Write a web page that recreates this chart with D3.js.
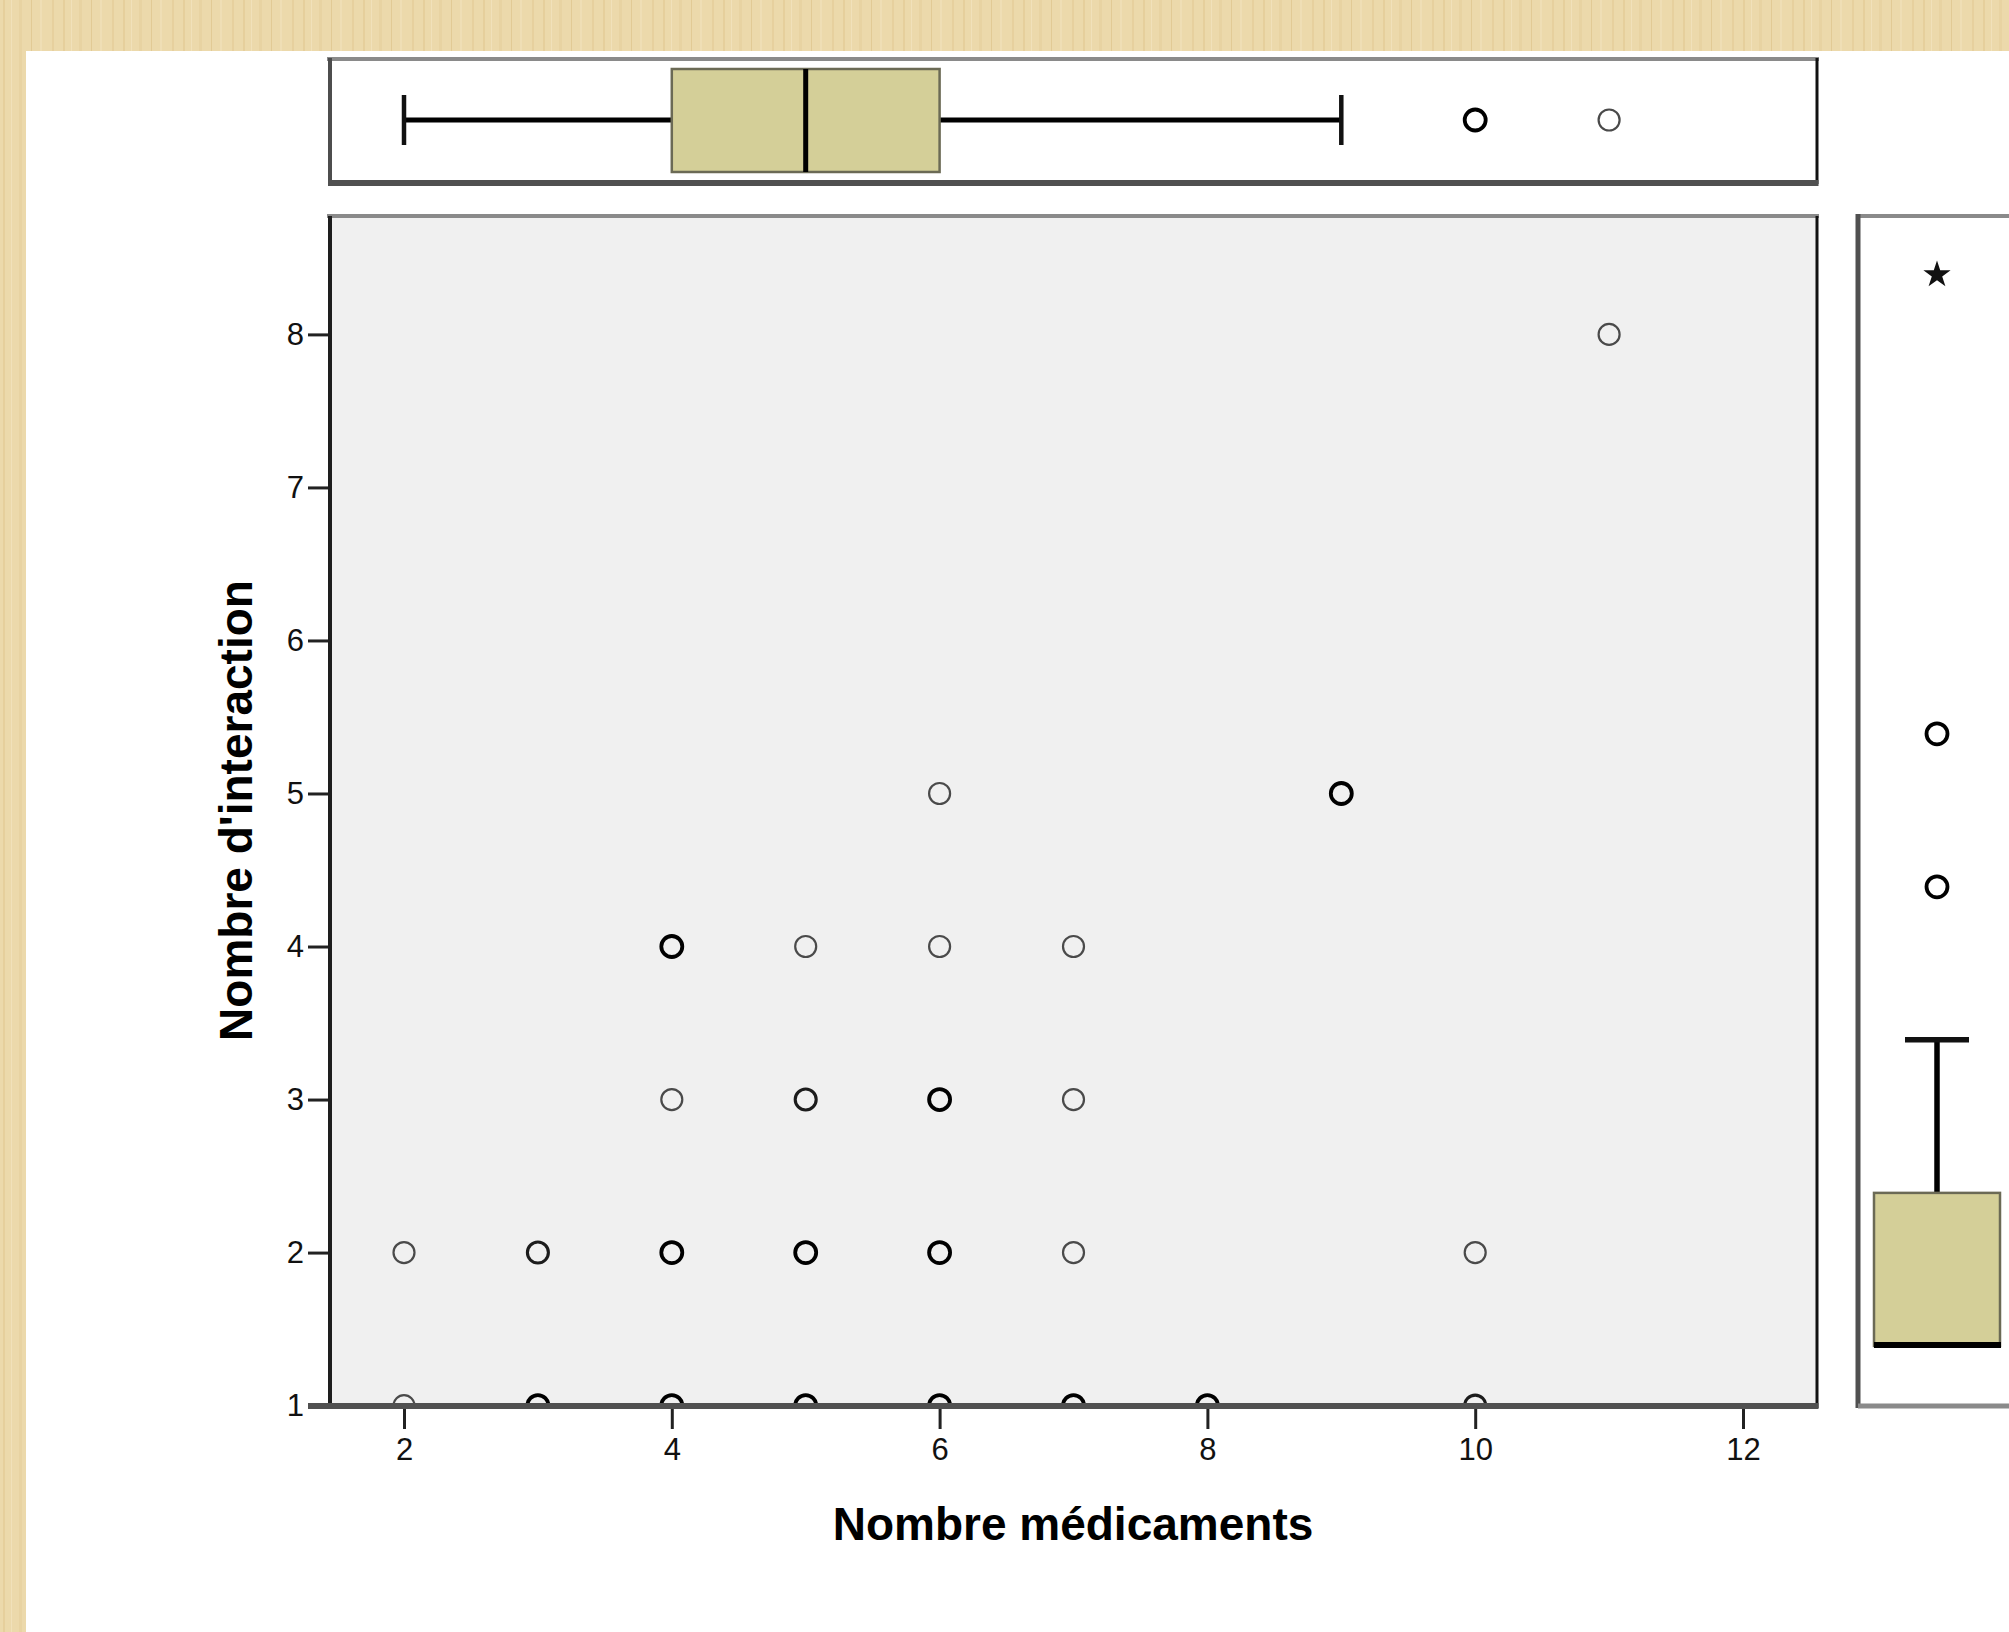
<!DOCTYPE html>
<html>
<head>
<meta charset="utf-8">
<script src="https://cdn.jsdelivr.net/npm/d3@7"></script>
<style>
  body { margin: 0; background: #ebd7a7; }
  svg { display: block; }
  text { font-family: "Liberation Sans", Arial, sans-serif; }
</style>
</head>
<body>
<div id="chart"></div>
<script>
// scatter points: nombre de médicaments, nombre d'interactions, overlap level (1 = single, 3 = many)
const medicaments = [2, 3, 4, 5, 6, 7, 8, 10,  2, 3, 4, 5, 6, 7, 10,  4, 5, 6, 7,  4, 5, 6, 7,  6, 9,  11];
const interactions = [1, 1, 1, 1, 1, 1, 1, 1,  2, 2, 2, 2, 2, 2, 2,  3, 3, 3, 3,  4, 4, 4, 4,  5, 5,  8];
const overlap = [1, 3, 3, 3, 3, 3, 3, 2,  1, 2, 3, 3, 3, 1, 1,  1, 2, 3, 1,  3, 1, 1, 1,  1, 3,  1];

// boxplot of "Nombre médicaments" (top)
const medBox = { min: 2, q1: 4, median: 5, q3: 6, max: 9 };
const medOutliers = [10, 11];
const medOutlierOverlap = [3, 1];

// boxplot of "Nombre d'interaction" (right)
const interBox = { q1: 1, median: 1, q3: 2, max: 3 };
const interOutliers = [4, 5];
const interExtremes = [8];

const xTicks = [2, 4, 6, 8, 10, 12];
const yTicks = [1, 2, 3, 4, 5, 6, 7, 8];

const W = 2009, H = 1632;
const panel = { left: 329, right: 1817, top: 216, bottom: 1405 };
const topPanel = { top: 58, bottom: 184 };
const rightPanel = { left: 1858, right: W };
// SPSS draws the side boxplot slightly shifted against the scatter axis
const rightShift = 0.39;

const x = d3.scaleLinear().domain([2, 12]).range([404, 1743]);
const y = d3.scaleLinear().domain([1, 8]).range([1405.6, 334.4]);
const yRight = d3.scaleLinear().domain([1 - rightShift, 8 - rightShift]).range(y.range());

const svg = d3.select("#chart").append("svg")
    .attr("width", W)
    .attr("height", H);

// wood-like backdrop
const defs = svg.append("defs");
const pat = defs.append("pattern")
    .attr("id", "wood")
    .attr("width", 60).attr("height", 8)
    .attr("patternUnits", "userSpaceOnUse");
pat.append("rect").attr("width", 60).attr("height", 8).attr("fill", "#ecd9ab");
[[3, 2, "#e6cf9c"], [11, 1, "#f1e1ba"], [19, 3, "#e8d3a2"], [31, 1, "#e2ca95"], [40, 2, "#efdeb5"], [52, 2, "#e7d09e"]]
    .forEach(([px, pw, c]) => {
        pat.append("rect").attr("x", px).attr("width", pw).attr("height", 8).attr("fill", c);
    });
svg.append("rect").attr("width", W).attr("height", H).attr("fill", "url(#wood)");
svg.append("rect").attr("x", 26).attr("y", 51).attr("width", W - 26).attr("height", H - 51).attr("fill", "#fff");

const line = (g, x1, y1, x2, y2, color, w) => g.append("line")
    .attr("x1", x1).attr("y1", y1).attr("x2", x2).attr("y2", y2)
    .attr("stroke", color).attr("stroke-width", w);

const strokeFor = o => o >= 3 ? "#000" : (o == 2 ? "#1c1c1c" : "#4a4a4a");
const widthFor = o => o >= 3 ? 3.8 : (o == 2 ? 3.1 : 2.2);

// ---------- scatter panel ----------
const sc = svg.append("g");
sc.append("rect")
    .attr("x", panel.left).attr("y", panel.top)
    .attr("width", panel.right - panel.left).attr("height", panel.bottom - panel.top)
    .attr("fill", "#f0f0f0");

defs.append("clipPath").attr("id", "clipScatter")
    .append("rect")
    .attr("x", panel.left + 2).attr("y", panel.top + 2)
    .attr("width", panel.right - panel.left - 4).attr("height", panel.bottom - panel.top - 4);

sc.append("g").attr("clip-path", "url(#clipScatter)")
    .selectAll("circle")
    .data(medicaments.map((m, i) => ({ m, n: interactions[i], o: overlap[i] })))
    .join("circle")
    .attr("cx", d => x(d.m))
    .attr("cy", d => y(d.n))
    .attr("r", 10.5)
    .attr("fill", "none")
    .attr("stroke", d => strokeFor(d.o))
    .attr("stroke-width", d => widthFor(d.o));

const xAxis = sc.append("g")
    .attr("transform", `translate(0,${panel.bottom + 2})`)
    .call(d3.axisBottom(x).tickValues(xTicks).tickFormat(d3.format("d")).tickSize(22).tickPadding(9));
const yAxis = sc.append("g")
    .attr("transform", `translate(${panel.left - 1},0)`)
    .call(d3.axisLeft(y).tickValues(yTicks).tickFormat(d3.format("d")).tickSize(20).tickPadding(4));
[xAxis, yAxis].forEach(a => {
    a.select(".domain").remove();
    a.selectAll(".tick line").attr("stroke", "#222").attr("stroke-width", 3);
    a.selectAll(".tick text")
        .attr("fill", "#111")
        .style("font-size", "31px")
        .style("font-family", "'Liberation Sans', Arial, sans-serif");
});

// frame of scatter panel
line(sc, panel.left - 2, panel.top, panel.right + 2, panel.top, "#8a8a8a", 4);
line(sc, panel.left + 1, panel.top, panel.left + 1, panel.bottom, "#1e1e1e", 4);
line(sc, panel.right, panel.top, panel.right, panel.bottom + 3, "#111", 3);
line(sc, panel.left - 21, panel.bottom + 1, panel.right + 1.5, panel.bottom + 1, "#505050", 6);

sc.append("text")
    .attr("x", (panel.left + panel.right) / 2)
    .attr("y", 1540)
    .attr("text-anchor", "middle")
    .style("font-size", "46px")
    .style("font-weight", "bold")
    .text("Nombre médicaments");

sc.append("text")
    .attr("transform", `translate(252,${(panel.top + panel.bottom) / 2}) rotate(-90)`)
    .attr("text-anchor", "middle")
    .style("font-size", "46px")
    .style("font-weight", "bold")
    .text("Nombre d'interaction");

// ---------- top boxplot ----------
const tb = svg.append("g");
const cy = (topPanel.top + topPanel.bottom) / 2 - 1;
tb.append("rect")
    .attr("x", panel.left).attr("y", topPanel.top)
    .attr("width", panel.right - panel.left).attr("height", topPanel.bottom - topPanel.top)
    .attr("fill", "#fff");
line(tb, x(medBox.min), cy, x(medBox.q1), cy, "#000", 5);
line(tb, x(medBox.q3), cy, x(medBox.max), cy, "#000", 5);
line(tb, x(medBox.min), cy - 25, x(medBox.min), cy + 25, "#111", 4.5);
line(tb, x(medBox.max), cy - 25, x(medBox.max), cy + 25, "#111", 4.5);
tb.append("rect")
    .attr("x", x(medBox.q1)).attr("y", cy - 51)
    .attr("width", x(medBox.q3) - x(medBox.q1)).attr("height", 103)
    .attr("fill", "#d4cf98")
    .attr("stroke", "#6b6a55").attr("stroke-width", 2.5);
line(tb, x(medBox.median), cy - 51, x(medBox.median), cy + 52, "#000", 5);
tb.selectAll("circle.out")
    .data(medOutliers)
    .join("circle")
    .attr("class", "out")
    .attr("cx", d => x(d))
    .attr("cy", cy)
    .attr("r", 10.5)
    .attr("fill", "none")
    .attr("stroke", (d, i) => strokeFor(medOutlierOverlap[i]))
    .attr("stroke-width", (d, i) => widthFor(medOutlierOverlap[i]));
line(tb, panel.left - 2, topPanel.top + 1, panel.right + 2, topPanel.top + 1, "#8a8a8a", 4);
line(tb, panel.left + 1, topPanel.top, panel.left + 1, topPanel.bottom, "#4d4d4d", 4);
line(tb, panel.right, topPanel.top, panel.right, topPanel.bottom, "#111", 3);
line(tb, panel.left - 1, topPanel.bottom - 1, panel.right + 1.5, topPanel.bottom - 1, "#505050", 6);

// ---------- right boxplot ----------
const rb = svg.append("g");
const cx = 1937;
rb.append("rect")
    .attr("x", rightPanel.left).attr("y", panel.top)
    .attr("width", rightPanel.right - rightPanel.left).attr("height", panel.bottom - panel.top)
    .attr("fill", "#fff");
line(rb, cx, yRight(interBox.q3), cx, yRight(interBox.max), "#000", 5.5);
line(rb, cx - 32, yRight(interBox.max), cx + 32, yRight(interBox.max), "#111", 5.5);
rb.append("rect")
    .attr("x", cx - 63).attr("y", yRight(interBox.q3))
    .attr("width", 126).attr("height", yRight(interBox.q1) - yRight(interBox.q3))
    .attr("fill", "#d4cf98")
    .attr("stroke", "#6b6a55").attr("stroke-width", 2.5);
line(rb, cx - 63, yRight(interBox.median) - 1, cx + 64, yRight(interBox.median) - 1, "#000", 6);
rb.selectAll("circle.out")
    .data(interOutliers)
    .join("circle")
    .attr("class", "out")
    .attr("cx", cx)
    .attr("cy", d => yRight(d))
    .attr("r", 10.5)
    .attr("fill", "none")
    .attr("stroke", "#000")
    .attr("stroke-width", 3.8);
rb.selectAll("path.ext")
    .data(interExtremes)
    .join("path")
    .attr("class", "ext")
    .attr("transform", d => `translate(${cx},${yRight(d)})`)
    .attr("d", d3.symbol(d3.symbolStar, 230))
    .attr("fill", "#111");
line(rb, rightPanel.left, panel.top, rightPanel.right, panel.top, "#8a8a8a", 4);
line(rb, rightPanel.left, panel.top - 2, rightPanel.left, panel.bottom + 3, "#505050", 5);
line(rb, rightPanel.left, panel.bottom + 1, rightPanel.right, panel.bottom + 1, "#8a8a8a", 5);
</script>
</body>
</html>
